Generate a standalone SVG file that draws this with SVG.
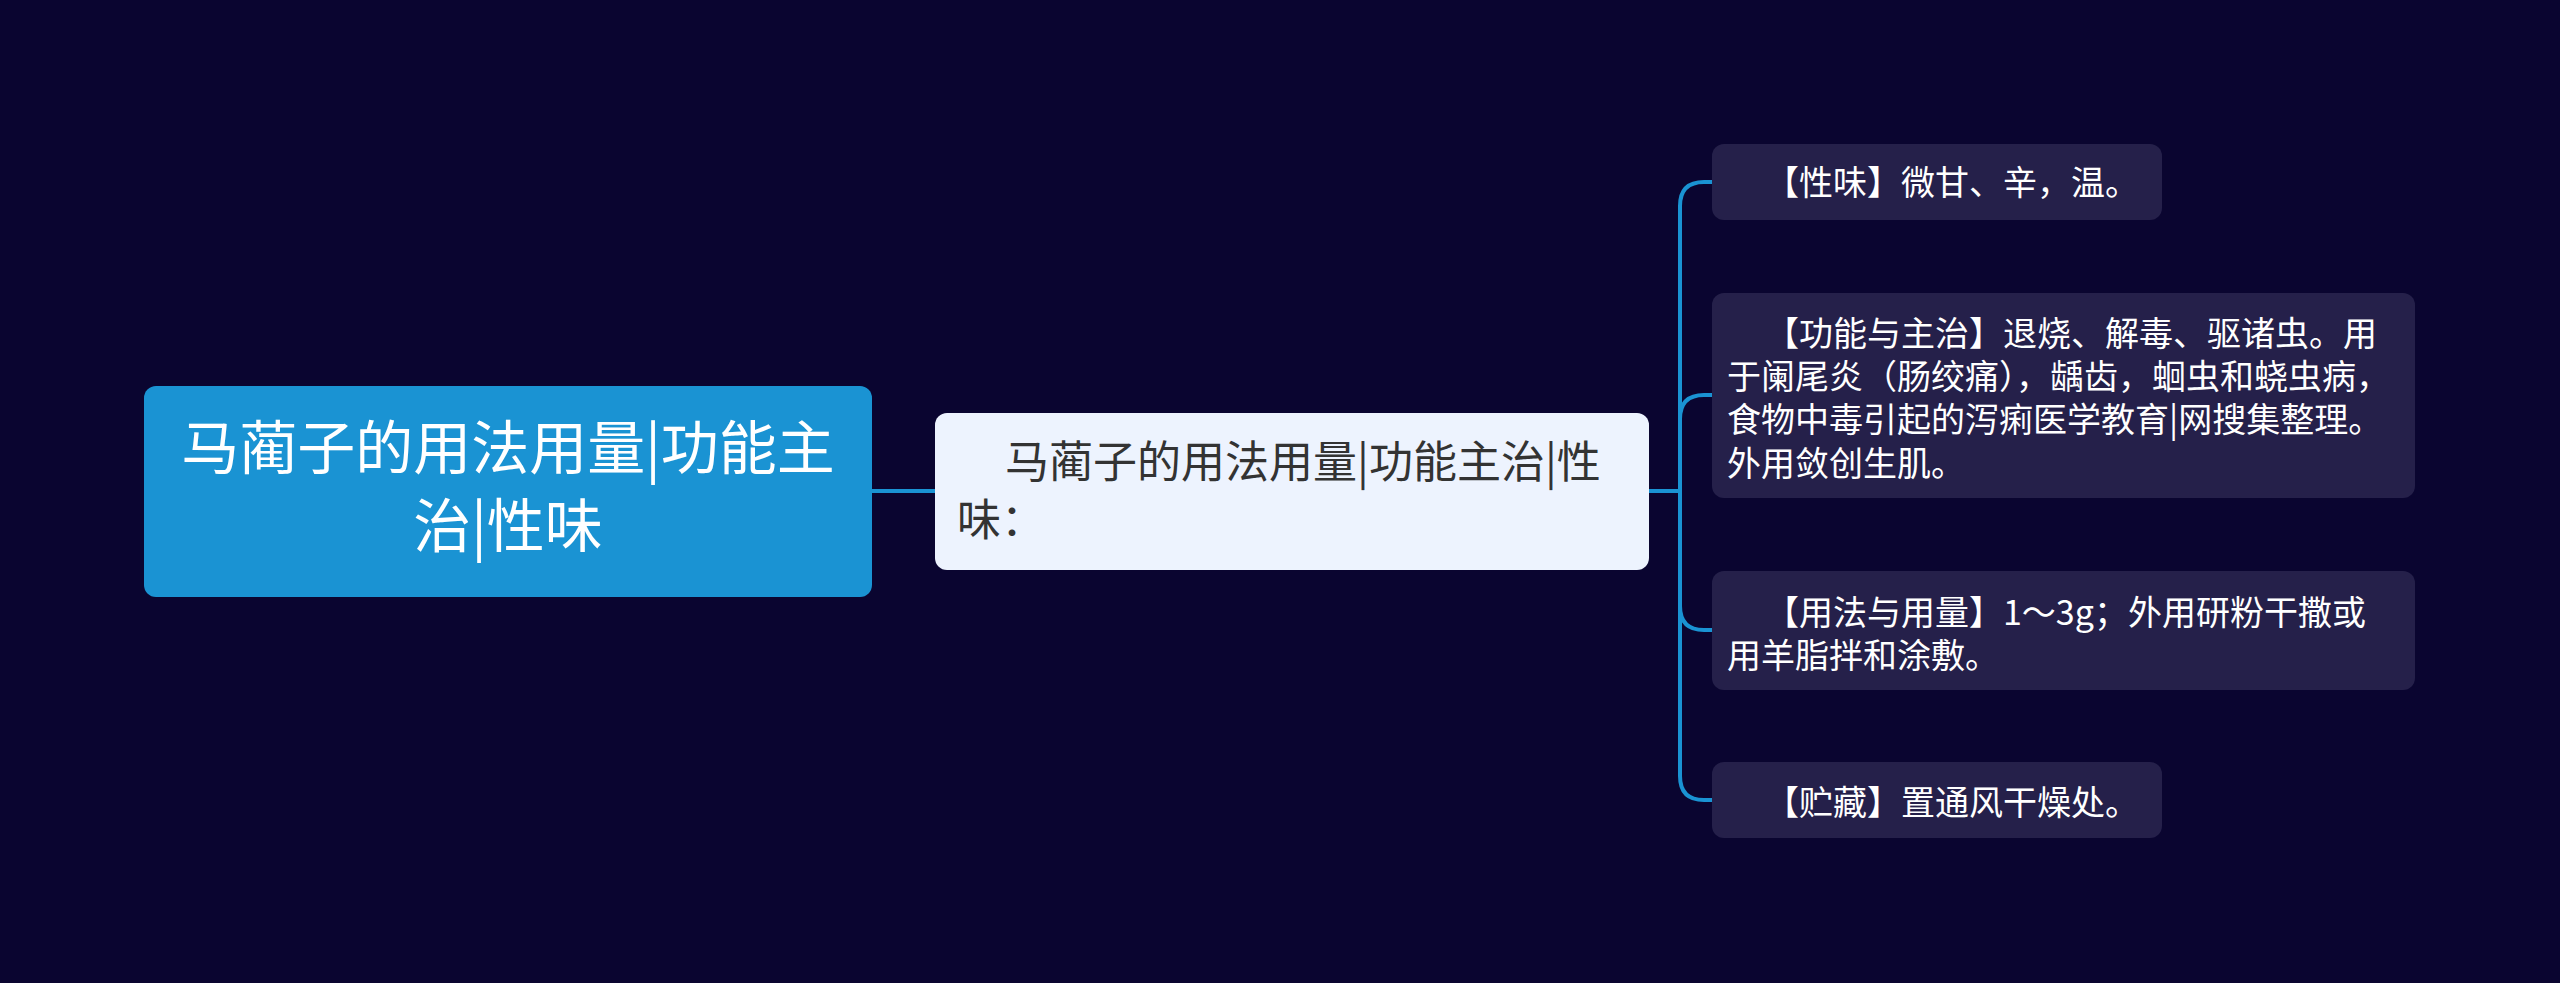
<svg xmlns="http://www.w3.org/2000/svg" width="2560" height="983" viewBox="0 0 2560 983">
<style>
text{font-family:"Noto Sans CJK SC","Noto Sans",sans-serif;}
.root{fill:#1a93d3;}
.rootT{fill:#ffffff;font-size:58px;}
.mid{fill:#edf3fe;}
.midT{fill:#333333;font-size:44px;}
.leaf{fill:#25204a;}
.leafT{fill:#ffffff;font-size:34px;}
.conn{fill:none;stroke:#1a93d3;stroke-width:4;}
</style>
<rect width="2560" height="983" fill="#0a0530"/>
<g id="connectors">
<path class="conn" d="M872 491 H935"/>
<path class="conn" d="M1649 491 H1680"/>
<path class="conn" d="M1680 491 V206 Q1680 182 1704 182 H1712"/>
<path class="conn" d="M1680 491 V419 Q1680 395 1704 395 H1712"/>
<path class="conn" d="M1680 491 V606 Q1680 630 1704 630 H1712"/>
<path class="conn" d="M1680 491 V776 Q1680 800 1704 800 H1712"/>
</g>
<g id="root">
<rect class="root" x="144" y="386" width="728" height="211" rx="12"/>
<text class="rootT" x="508" y="469" text-anchor="middle">马蔺子的用法用量|功能主</text>
<text class="rootT" x="508" y="547" text-anchor="middle">治|性味</text>
</g>
<g id="mid">
<rect class="mid" x="935" y="413" width="714" height="157" rx="12"/>
<text class="midT" x="1005" y="478">马蔺子的用法用量|功能主治|性</text>
<text class="midT" x="957" y="536">味：</text>
</g>
<g id="leaf1">
<rect class="leaf" x="1712" y="144" width="450" height="76" rx="12"/>
<text class="leafT" x="1765" y="195">【性味】微甘、辛，温。</text>
</g>
<g id="leaf2">
<rect class="leaf" x="1712" y="293" width="703" height="205" rx="12"/>
<text class="leafT" x="1765" y="346">【功能与主治】退烧、解毒、驱诸虫。用</text>
<text class="leafT" x="1727" y="389">于阑尾炎（肠绞痛），龋齿，蛔虫和蛲虫病，</text>
<text class="leafT" x="1727" y="432">食物中毒引起的泻痢医学教育|网搜集整理。</text>
<text class="leafT" x="1727" y="476">外用敛创生肌。</text>
</g>
<g id="leaf3">
<rect class="leaf" x="1712" y="571" width="703" height="119" rx="12"/>
<text class="leafT" x="1765" y="625">【用法与用量】1～3g；外用研粉干撒或</text>
<text class="leafT" x="1727" y="668">用羊脂拌和涂敷。</text>
</g>
<g id="leaf4">
<rect class="leaf" x="1712" y="762" width="450" height="76" rx="12"/>
<text class="leafT" x="1765" y="815">【贮藏】置通风干燥处。</text>
</g>
</svg>
